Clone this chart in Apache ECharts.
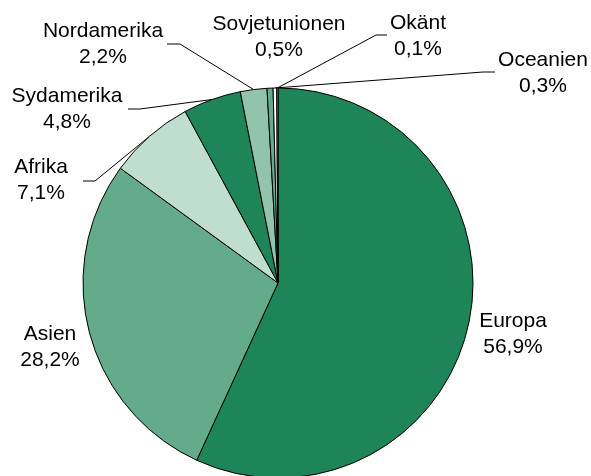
<!DOCTYPE html>
<html>
<head>
<meta charset="utf-8">
<script src="https://cdn.jsdelivr.net/npm/echarts@6/dist/echarts.min.js"></script>
<style>
  html, body { margin: 0; padding: 0; background: #fff; }
  #chart { width: 591px; height: 476px; }
</style>
</head>
<body>
<div id="chart"></div>
<script>
// andel per region (%)
var regions = ['Europa', 'Asien', 'Afrika', 'Sydamerika', 'Nordamerika', 'Sovjetunionen', 'Oceanien', 'Okänt'];
var shares = [56.9, 28.2, 7.1, 4.8, 2.2, 0.5, 0.3, 0.1];
var colors = ['#1e8559', '#63ab8a', '#c0ded0', '#1e8559', '#92c4ad', '#63ab8a', '#ffffff', '#c8c8c8'];

// label placement: [x, y, elbowX, elbowY, endX] (null = no leader line)
var labelPos = [
  [513, 334, null],
  [50, 347, null],
  [41, 180, 95, 181, 83],
  [67, 109, 140, 109, 128],
  [103, 44, 180, 44, 167],
  [279, 37, null],
  [543, 73, 483, 72, 495],
  [418, 36, 376, 35, 387]
];

var data = [];
for (var i = 0; i < regions.length; i++) {
  data.push({
    name: regions[i],
    value: shares[i],
    itemStyle: { color: colors[i] },
    labelLine: { show: labelPos[i][2] != null }
  });
}

var myChart = echarts.init(document.getElementById('chart'));
myChart.setOption({
  animation: false,
  series: [{
    type: 'pie',
    center: [278, 283],
    radius: 195,
    startAngle: 90,
    clockwise: true,
    avoidLabelOverlap: false,
    itemStyle: { borderColor: '#000', borderWidth: 1 },
    label: {
      show: true,
      position: 'outside',
      fontFamily: 'Liberation Sans, Arial, sans-serif',
      fontSize: 21,
      lineHeight: 26,
      color: '#000',
      align: 'center',
      formatter: function (p) {
        return p.name + '\n' + p.value.toFixed(1).replace('.', ',') + '%';
      }
    },
    labelLine: {
      show: true,
      length: 10,
      length2: 10,
      lineStyle: { color: '#000', width: 1 }
    },
    labelLayout: function (params) {
      var p = labelPos[params.dataIndex];
      var res = { x: p[0], y: p[1], align: 'center', verticalAlign: 'middle' };
      if (p[2] != null && params.labelLinePoints) {
        res.labelLinePoints = [params.labelLinePoints[0], [p[2], p[3]], [p[4], p[3]]];
      }
      return res;
    },
    emphasis: { disabled: true },
    data: data
  }]
});
</script>
</body>
</html>
